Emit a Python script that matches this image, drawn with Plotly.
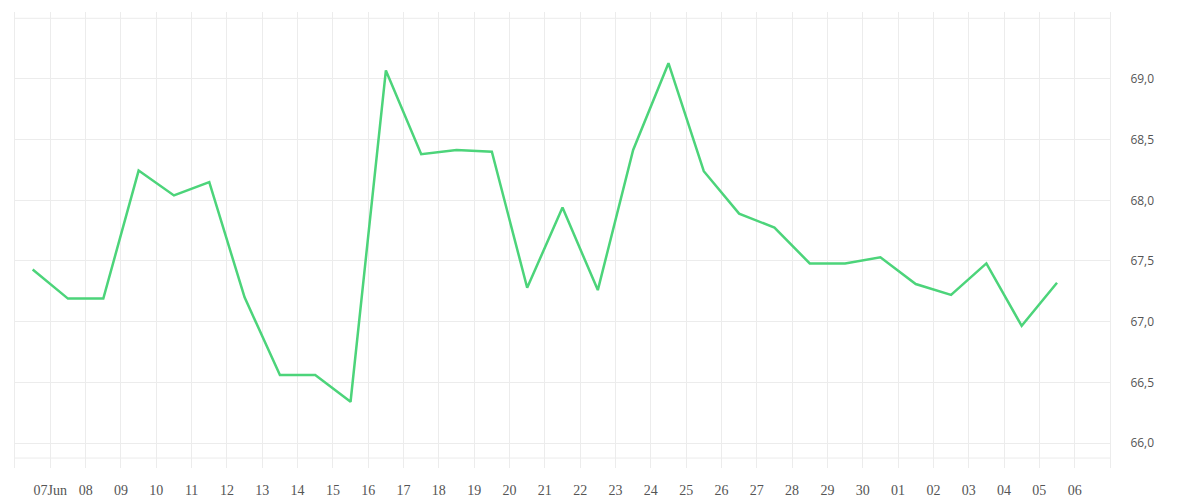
import plotly.graph_objects as go
import pandas as pd

dates = pd.date_range("2024-06-06 12:00", periods=30, freq="D")
values = [67.43, 67.19, 67.19, 68.245, 68.04, 68.15, 67.20, 66.56, 66.56, 66.34,
          69.07, 68.38, 68.415, 68.40, 67.28, 67.94, 67.26, 68.415, 69.13, 68.24,
          67.89, 67.775, 67.48, 67.48, 67.53, 67.31, 67.22, 67.48, 66.965, 67.32]

x_tick_dates = pd.date_range("2024-06-07", "2024-07-06", freq="D")
x_tick_text = ["07Jun"] + [d.strftime("%d") for d in x_tick_dates[1:]]
y_ticks = [66.0, 66.5, 67.0, 67.5, 68.0, 68.5, 69.0]
y_tick_text = [f"{v:.1f}".replace(".", ",") for v in y_ticks]

grid = "#ececec"

fig = go.Figure(go.Scatter(x=dates, y=values, mode="lines",
                           line=dict(color="#4cd47a", width=2.5),
                           hoverinfo="skip"))

fig.update_layout(
    width=1200, height=500,
    margin=dict(l=7, r=98, t=4, b=40),
    paper_bgcolor="white", plot_bgcolor="white",
    showlegend=False,
    xaxis=dict(range=["2024-06-06", "2024-07-07"],
               tickvals=x_tick_dates, ticktext=x_tick_text,
               showgrid=True, gridcolor=grid, gridwidth=1,
               zeroline=False, showline=False,
               ticks="outside", ticklen=9, tickcolor="rgba(0,0,0,0)",
               tickfont=dict(family="Liberation Serif", size=14, color="#555")),
    yaxis=dict(side="right", range=[65.794, 69.552],
               tickvals=y_ticks, ticktext=y_tick_text,
               showgrid=True, gridcolor=grid, gridwidth=1,
               zeroline=False, showline=True, mirror=True, linecolor=grid, linewidth=1,
               ticks="outside", ticklen=17, tickcolor="rgba(0,0,0,0)",
               tickfont=dict(family="Open Sans", size=12, color="#555")),
    shapes=[
        dict(type="line", xref="paper", yref="y", x0=0, x1=1, y0=69.5, y1=69.5,
             line=dict(color=grid, width=1), layer="below"),
        dict(type="line", xref="paper", yref="y", x0=0, x1=1, y0=65.876, y1=65.876,
             line=dict(color=grid, width=1), layer="below"),
    ],
)

fig.write_html("out.html")
